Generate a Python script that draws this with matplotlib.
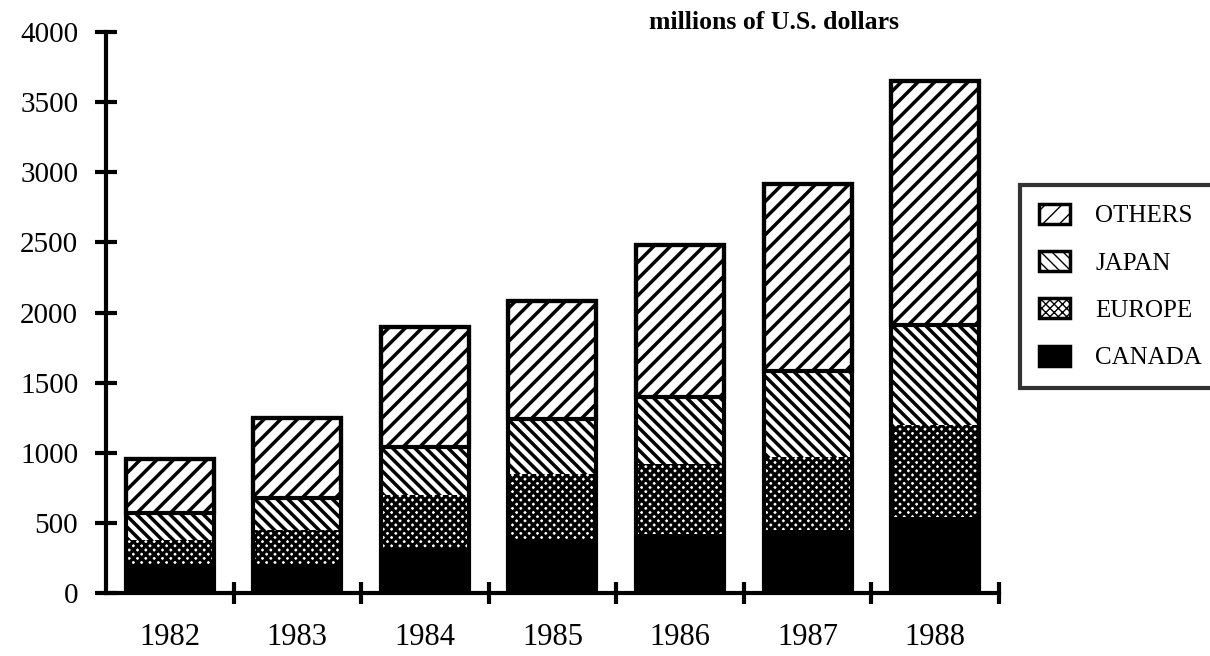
import matplotlib
matplotlib.use("Agg")
import matplotlib.pyplot as plt
from matplotlib.patches import Patch
import numpy as np

years = ["1982", "1983", "1984", "1985", "1986", "1987", "1988"]
canada = [200, 200, 320, 380, 420, 450, 540]
europe = [180, 250, 380, 470, 500, 520, 660]
japan = [190, 230, 340, 390, 480, 610, 710]
others = [385, 570, 860, 840, 1080, 1340, 1740]
yticks = [0, 500, 1000, 1500, 2000, 2500, 3000, 3500, 4000]

plt.rcParams['font.family'] = ['Liberation Serif', 'DejaVu Serif']

fig = plt.figure(figsize=(12.1, 6.56), dpi=100)
ax = fig.add_axes([0.0876, 0.096, 0.738, 0.855])

x = np.arange(len(years))
w = 0.69
c = np.array(canada)
e = np.array(europe)
j = np.array(japan)
o = np.array(others)

ax.bar(x, c, w, color='black', edgecolor='black', linewidth=0)
with plt.rc_context({'hatch.linewidth': 2.4}):
    ax.bar(x, e, w, bottom=c, facecolor='white', edgecolor='black', hatch='xxxx', linewidth=0)
with plt.rc_context({'hatch.linewidth': 2.5}):
    ax.bar(x, j, w, bottom=c + e, facecolor='white', edgecolor='black', hatch='\\\\\\', linewidth=0)
with plt.rc_context({'hatch.linewidth': 2.5}):
    ax.bar(x, o, w, bottom=c + e + j, facecolor='white', edgecolor='black', hatch='//', linewidth=0)
# separators and outline
ax.bar(x, o, w, bottom=c + e + j, fill=False, edgecolor='black', linewidth=3)
ax.bar(x, c + e + j + o, w, fill=False, edgecolor='black', linewidth=3)

ax.set_xlim(-0.5, 6.5)
ax.set_ylim(0, 4000)
ax.set_yticks(yticks)
ax.set_yticklabels([str(v) for v in yticks], fontsize=21)
ax.set_xticks(x + 0.5)
ax.set_xticklabels([])
for xi, lab in zip(x, years):
    ax.text(xi, -215, lab, ha='center', va='top', fontsize=22)

for s in ['top', 'right']:
    ax.spines[s].set_visible(False)
for s in ['left', 'bottom']:
    ax.spines[s].set_linewidth(3)
ax.tick_params(axis='both', direction='inout', length=16, width=3, pad=6)
ax.tick_params(axis='y', pad=12)

fig.text(0.64, 0.965, "millions of U.S. dollars",
         ha='center', va='center', fontsize=18.5, fontweight='bold')

handles = []
with plt.rc_context({'hatch.linewidth': 2.0}):
    handles.append(Patch(facecolor='white', edgecolor='black', hatch='//', linewidth=2.5, label='OTHERS'))
    handles.append(Patch(facecolor='white', edgecolor='black', hatch='\\\\\\', linewidth=2.5, label='JAPAN'))
    handles.append(Patch(facecolor='white', edgecolor='black', hatch='xxxx', linewidth=2.5, label='EUROPE'))
    handles.append(Patch(facecolor='black', edgecolor='black', linewidth=2.5, label='CANADA'))
leg = fig.legend(handles=handles, loc='upper left', bbox_to_anchor=(0.843, 0.718),
                 fontsize=18, frameon=True, fancybox=False, edgecolor='black',
                 handlelength=1.25, handleheight=0.85, handletextpad=1.0,
                 labelspacing=0.95, borderpad=0.75, borderaxespad=0)
leg.get_frame().set_linewidth(3)

fig.savefig("out.png", dpi=100)
